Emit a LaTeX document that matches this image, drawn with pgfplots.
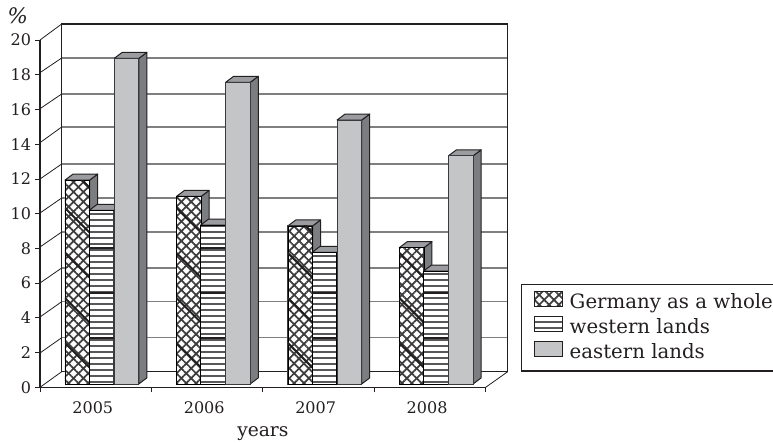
\documentclass[border=0pt]{standalone}
\usepackage{pgfplots}
\pgfplotsset{compat=1.18}
\usepackage{pgfplotstable}
\usepackage{fontspec}
\usetikzlibrary{patterns.meta}
\setmainfont{DejaVu Serif}
\definecolor{barface}{HTML}{C4C5C7}
\definecolor{barside}{HTML}{7B7D80}
\definecolor{bartop}{HTML}{9A9C9F}
\definecolor{gridg}{HTML}{7F7F7F}
\definecolor{ink}{HTML}{231F20}
\definecolor{outl}{HTML}{3A3A3C}
\definecolor{hatch}{HTML}{3C3C3E}
\definecolor{stripe}{HTML}{58585A}
\pgfdeclareplotmark{nothing}{}
\pgfplotstableread{
x y
0 11.74
1 10.80
2 9.10
3 7.85
}\germany
\pgfplotstableread{
x y
0 10.00
1 9.15
2 7.58
3 6.50
}\western
\pgfplotstableread{
x y
0 18.75
1 17.37
2 15.20
3 13.14
}\eastern
\pgfplotsset{
  solid3d/.style={only marks, mark=nothing, forget plot, scatter,
    visualization depends on={rawy\as\rawval},
    scatter/@pre marker code/.code={%
      \pgfmathsetmacro\hh{\rawval*13.02}%
      \pgfmathsetmacro\lft{#1-9.25}%
      \pgfmathsetmacro\rgt{#1+9.25}%
      \path[draw=ink,line width=0.75pt,line join=round,fill=barside]
        (\rgt pt,2.5pt) -- (\rgt pt+6pt,7pt) -- (\rgt pt+6pt,-\hh pt+7pt) -- (\rgt pt,-\hh pt+2.5pt) -- cycle;
      \path[draw=ink,line width=0.75pt,line join=round,fill=bartop]
        (\lft pt,2.5pt) -- (\lft pt+6pt,7pt) -- (\rgt pt+6pt,7pt) -- (\rgt pt,2.5pt) -- cycle;
      \begingroup},
    scatter/@post marker code/.code={\endgroup}},
  seams/.style={only marks, mark=nothing, forget plot, scatter,
    visualization depends on={rawy\as\rawval},
    scatter/@pre marker code/.code={%
      \pgfmathsetmacro\hh{\rawval*13.02}%
      \pgfmathsetmacro\lft{#1-9.25}%
      \pgfmathsetmacro\rgt{#1+9.25}%
      \begin{scope}
      \clip (\lft pt,2.5pt) rectangle (\rgt pt,-\hh pt+2.5pt);
      \foreach \k in {0,...,4}{
        \pgfmathsetmacro\ee{-\hh+2.5+30.75+33.75*\k}%
        \draw[ink,line width=1.5pt] (\lft pt,\ee pt) -- (\rgt pt,\ee pt-18.5pt);
      }
      \end{scope}
      \begingroup},
    scatter/@post marker code/.code={\endgroup}},
  darklines/.style={only marks, mark=nothing, forget plot, scatter,
    visualization depends on={rawy\as\rawval},
    scatter/@pre marker code/.code={%
      \pgfmathsetmacro\hh{\rawval*13.02}%
      \pgfmathsetmacro\lft{#1-9.25}%
      \pgfmathsetmacro\rgt{#1+9.25}%
      \begin{scope}
      \clip (\lft pt,2.5pt) rectangle (\rgt pt,-\hh pt+2.5pt);
      \foreach \k in {1,...,5}{
        \pgfmathsetmacro\ee{-\hh+2.5+0.75+33.75*\k}%
        \draw[ink,line width=1.1pt] (\lft pt,\ee pt) -- (\rgt pt,\ee pt);
      }
      \end{scope}
      \begingroup},
    scatter/@post marker code/.code={\endgroup}},
  front/.style={ybar, bar width=18.5pt, bar shift=#1pt, yshift=2.5pt, draw=outl, line width=0.7pt}
}
\begin{document}
\begin{tikzpicture}
\path[use as bounding box] (0,0) rectangle (579.75pt,331.5pt);
\begin{scope}[x=0.75pt,y=-0.75pt,yshift=331.5pt]
  \foreach \yy in {58,94,127,164,198,232,268,301.7,337.7}
    \draw[gridg,line width=0.95pt] (61.7,\yy) -- (507.7,\yy);
  \draw[ink,line width=0.9pt] (61.7,371.7) -- (507.7,371.7);
  \draw[ink,line width=0.9pt] (61.7,371.7) -- (61.7,24) -- (507.7,24) -- (507.7,371.7);
  \foreach \yy/\zz in {387.3/371.7,353/337.7,317/301.7,283/268,247/232,213/198,179/164,142.7/127,108.7/94,72.7/58,40/24}
    \draw[ink,line width=0.6pt] (40,\yy) -- (61.7,\zz);
  \draw[ink,line width=0.6pt] (485.7,387.3) -- (507.7,371.7);
\end{scope}
\begin{axis}[
  at={(30pt,41pt)}, anchor=south west,
  scale only axis, width=334.3pt, height=260.5pt,
  xmin=-0.5, xmax=3.5, ymin=0, ymax=20,
  axis x line=bottom, axis y line=left,
  axis line style={-, ink, line width=0.9pt},
  clip=false, clip marker paths=true,
  ytick={0,2,...,20},
  xtick={-0.5,0.5,1.5,2.5,3.5},
  xticklabels={2005,2006,2007,2008},
  x tick label as interval,
  tick align=outside, major tick length=3.75pt,
  tick style={ink, line width=0.6pt},
  /pgf/number format/assume math mode=true,
  /pgf/number format/1000 sep={},
  tick label style={font=\fontsize{12}{14}\selectfont, text=ink},
  x tick label style={xshift=-2.2pt, yshift=-3.5pt},
  y tick label style={xshift=0.5pt},
  xlabel={years},
  xlabel style={font=\fontsize{14}{16}\selectfont, text=ink, at={(axis description cs:0.5,0)}, anchor=north, yshift=-26pt, xshift=0pt},
  ylabel={\itshape\%},
  ylabel style={font=\fontsize{16}{18}\selectfont, text=ink, rotate=-90, at={(axis description cs:-0.05,1.07)}, anchor=center},
  legend style={at={(axis description cs:1.108,0.2785)}, anchor=north west, draw=none, fill=none,
    font=\fontsize{14.8}{15}\selectfont, text=ink, row sep=2pt, inner sep=0pt, legend cell align=left},
  legend image code/.code={\draw[#1,draw=ink,line width=0.7pt] (0pt,-5.5pt) rectangle (21pt,5.5pt);},
]
\addplot[solid3d=-13.8] table {\germany};
\addplot[front=-13.8, preaction={fill=white},
  pattern={Lines[angle=45,distance=5.2pt,line width=1.3pt]}, pattern color=hatch,
  postaction={pattern={Lines[angle=-45,distance=5.2pt,line width=1.3pt]}, pattern color=hatch}] table {\germany};
\addlegendentry{\hspace*{3pt}Germany as a whole}
\addplot[seams=-13.8] table {\germany};
\addplot[solid3d=4.35] table {\western};
\addplot[front=4.35, preaction={fill=white},
  pattern={Lines[angle=0,distance=4.5pt,line width=1.1pt]}, pattern color=stripe] table {\western};
\addlegendentry{\hspace*{3pt}western lands}
\addplot[darklines=4.35] table {\western};
\addplot[solid3d=23.1] table {\eastern};
\addplot[front=23.1, fill=barface] table {\eastern};
\addlegendentry{\hspace*{3pt}eastern lands}
\end{axis}
\begin{scope}[x=0.75pt,y=-0.75pt,yshift=331.5pt]
  \draw[ink,line width=0.8pt] (773,284.3) -- (521.3,284.3) -- (521.3,371) -- (773,371);
\end{scope}
\end{tikzpicture}
\end{document}
